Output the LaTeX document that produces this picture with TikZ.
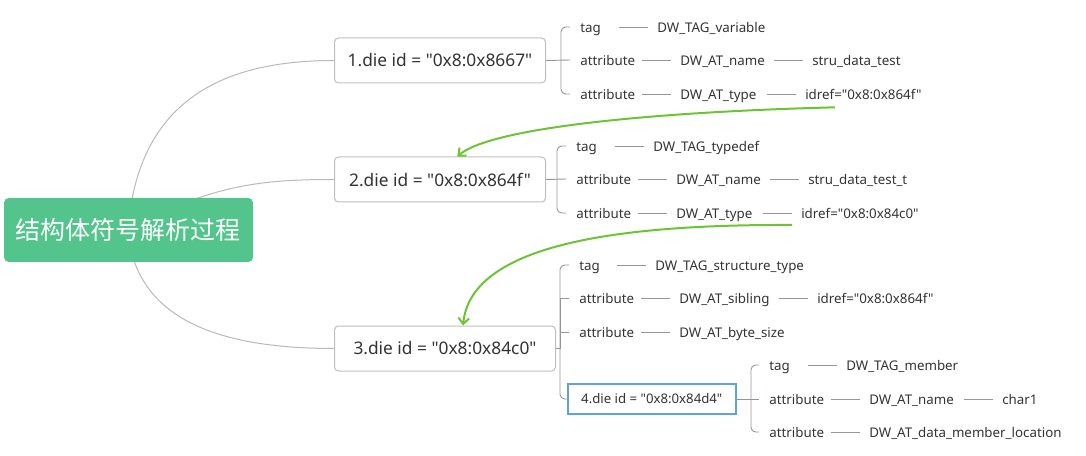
\documentclass[tikz,border=0pt]{standalone}
\usepackage{fontspec}
\setmainfont{Noto Sans}[Ligatures=TeXOff]
\newfontfamily\cjk{Noto Sans CJK SC}
\usetikzlibrary{arrows.meta}
\definecolor{rootgreen}{RGB}{82,196,140}
\definecolor{txt}{RGB}{51,51,51}
\definecolor{boxgray}{RGB}{190,190,190}
\definecolor{linkgray}{RGB}{150,150,150}
\definecolor{curvegray}{RGB}{185,185,185}
\definecolor{arrgreen}{RGB}{108,196,52}
\definecolor{selblue}{RGB}{96,160,230}
\tikzset{
  rootbox/.style={fill=rootgreen, rounded corners=3.5pt, minimum width=186.75pt, minimum height=48pt, text=white, font=\cjk\fontsize{18.75}{20}\selectfont, inner sep=0pt},
  diebox/.style={draw=boxgray, line width=0.75pt, rounded corners=3pt, minimum height=33.75pt, anchor=west, text=txt, font=\fontsize{13}{15}\selectfont, inner sep=0pt},
  selbox/.style={draw=selblue, line width=1.2pt, minimum height=22.5pt, minimum width=126pt, anchor=west, text=txt, font=\fontsize{9.9}{12}\selectfont, inner sep=0pt},
  lbl/.style={anchor=west, inner sep=0pt, text=txt, font=\fontsize{10}{12}\selectfont, text height=9.6pt, text depth=2pt},
  link/.style={draw=linkgray, line width=0.7pt},
  brk/.style={draw=linkgray, line width=0.7pt, rounded corners=3.5pt},
  curve/.style={draw=curvegray, line width=0.75pt},
  refarrow/.style={draw=arrgreen, line width=1.5pt, -{Straight Barb[length=4.5pt,width=8pt]}},
}
\newcommand{\dash}[1]{\draw[link] ([xshift=-28.5pt]#1.west) -- ([xshift=-6.75pt]#1.west);}
\begin{document}
\begin{tikzpicture}[x=0.75pt,y=-0.75pt]
\useasboundingbox (0,0) rectangle (1086,456);
% die nodes
\node[diebox, minimum width=158.25pt] (n1) at (334,60.5) {1.die id = "0x8:0x8667"};
\node[diebox, minimum width=158.25pt] (n2) at (334,179.5) {2.die id = "0x8:0x864f"};
\node[diebox, minimum width=165.75pt] (n3) at (334,348.5) {3.die id = "0x8:0x84c0"};
% root curves (behind root)
\draw[curve] (128,230) .. controls (138,95) and (230,60.5) .. (n1.west);
\draw[curve] (128,230) .. controls (210,185) and (260,179.5) .. (n2.west);
\draw[curve] (128,230) .. controls (135,320) and (220,348.5) .. (n3.west);
\node[rootbox] (root) at (128.5,230) {结构体符号解析过程};
% node 1 children
\node[lbl] (t1) at (580,27) {tag};
\node[lbl] (v1) at (657,27) {DW\_TAG\_variable};
\node[lbl] (a12) at (580,60) {attribute};
\node[lbl] (k12) at (680,60) {DW\_AT\_name};
\node[lbl] (v12) at (812,60) {stru\_data\_test};
\node[lbl] (a13) at (580,94) {attribute};
\node[lbl] (k13) at (680,94) {DW\_AT\_type};
\node[lbl] (v13) at (805,94) {idref="0x8:0x864f"};
\dash{v1}\dash{k12}\dash{v12}\dash{k13}\dash{v13}
\coordinate (b1) at (561,60);
\draw[brk] ([xshift=-7.5pt]t1.west) -| (b1) |- ([xshift=-7.5pt]a13.west);
\draw[link] (n1.east) -- ([xshift=-7.5pt]a12.west);
% node 2 children
\node[lbl] (t2) at (576,146) {tag};
\node[lbl] (v2) at (653,146) {DW\_TAG\_typedef};
\node[lbl] (a22) at (576,179) {attribute};
\node[lbl] (k22) at (676,179) {DW\_AT\_name};
\node[lbl] (v22) at (808,179) {stru\_data\_test\_t};
\node[lbl] (a23) at (576,213) {attribute};
\node[lbl] (k23) at (676,213) {DW\_AT\_type};
\node[lbl] (v23) at (801,213) {idref="0x8:0x84c0"};
\dash{v2}\dash{k22}\dash{v22}\dash{k23}\dash{v23}
\coordinate (b2) at (557,179.5);
\draw[brk] ([xshift=-7.5pt]t2.west) -| (b2) |- ([xshift=-7.5pt]a23.west);
\draw[link] (n2.east) -- ([xshift=-7.5pt]a22.west);
% node 3 children
\node[lbl] (t3) at (579,265) {tag};
\node[lbl] (v3) at (655,265) {DW\_TAG\_structure\_type};
\node[lbl] (a32) at (579,298) {attribute};
\node[lbl] (k32) at (679,298) {DW\_AT\_sibling};
\node[lbl] (v32) at (817,298) {idref="0x8:0x864f"};
\node[lbl] (a33) at (579,332) {attribute};
\node[lbl] (k33) at (679,332) {DW\_AT\_byte\_size};
\node[selbox] (n4) at (567,399) {4.die id = "0x8:0x84d4"};
\dash{v3}\dash{k32}\dash{v32}\dash{k33}
\coordinate (b3) at (560,348.5);
\draw[brk] ([xshift=-7.5pt]t3.west) -| (b3) |- (n4.west);
\draw[link] (n3.east) -- (b3);
\draw[link] (b3) |- ([xshift=-7.5pt]a32.west);
\draw[link] (b3) |- ([xshift=-7.5pt]a33.west);
% node 4 children
\node[lbl] (t4) at (769,365) {tag};
\node[lbl] (v4) at (846,365) {DW\_TAG\_member};
\node[lbl] (a42) at (769,399) {attribute};
\node[lbl] (k42) at (869,399) {DW\_AT\_name};
\node[lbl] (v42) at (1002,399) {char1};
\node[lbl] (a43) at (769,432) {attribute};
\node[lbl] (k43) at (869,432) {DW\_AT\_data\_member\_location};
\dash{v4}\dash{k42}\dash{v42}\dash{k43}
\coordinate (b4) at (751,399);
\draw[brk] ([xshift=-7.5pt]t4.west) -| (b4) |- ([xshift=-7.5pt]a43.west);
\draw[link] (n4.east) -- ([xshift=-7.5pt]a42.west);
% reference arrows
\draw[refarrow] ([xshift=22.5pt,yshift=-4pt]v13.south west) .. controls (650,112) and (490,128) .. ([xshift=13pt]n2.north);
\draw[refarrow] ([xshift=-6.75pt,yshift=-3pt]v23.south west) .. controls (580,224) and (470,255) .. ([xshift=13.5pt]n3.north);
\end{tikzpicture}
\end{document}
